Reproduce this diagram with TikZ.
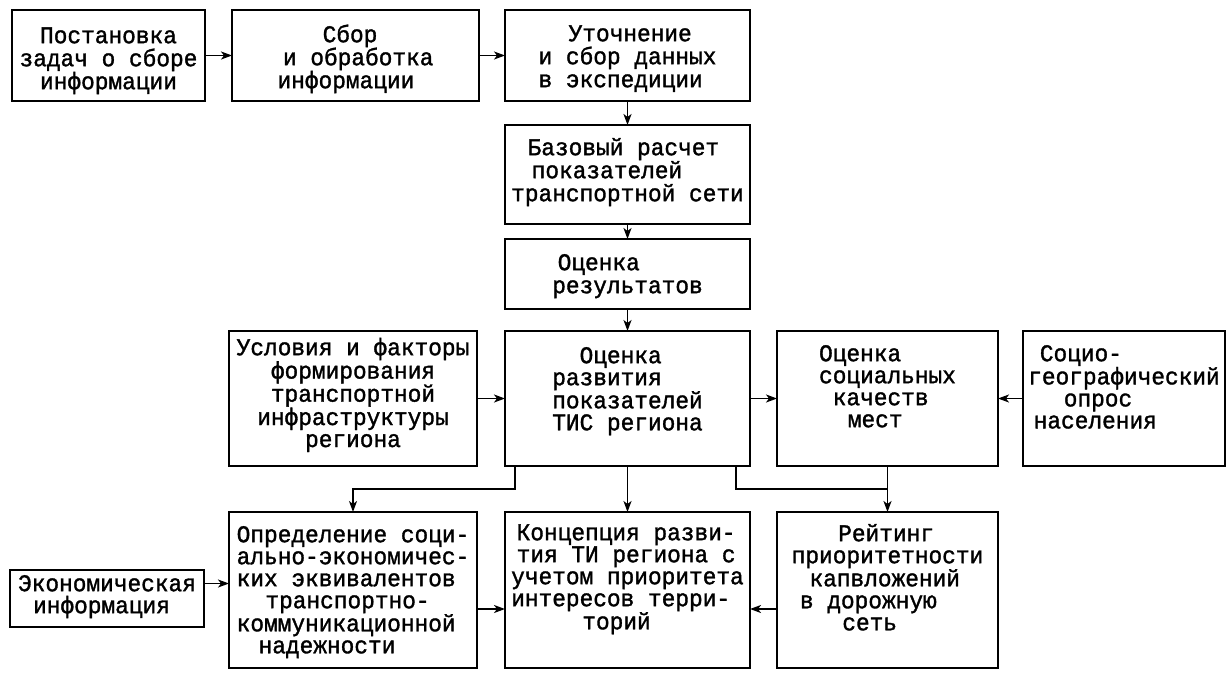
\documentclass[tikz,border=0pt]{standalone}
\usepackage{fontspec}
\newfontfamily\dfont[FakeStretch=0.95,FakeBold=1.4]{Liberation Mono}
\usetikzlibrary{arrows.meta,calc}
\newlength\chw
\setlength\chw{13.68pt}
\newcommand\ind[1]{\hspace*{#1\chw}}
\newcommand\fl{\rule{0pt}{19pt}}
\newcommand\mkbox[5]{\node[box,minimum width={#4-#2},minimum height={#5-#3}] (#1) at ({(#2+#4)/2},{(#3+#5)/2}) {};}
\begin{document}
\begin{tikzpicture}[x=1pt,y=-1pt,
  box/.style={draw,line width=1.8pt,inner sep=0pt,outer sep=0pt},
  txt/.style={font=\dfont\fontsize{24pt}{22pt}\selectfont,inner sep=0pt,align=left},
  txtA/.style={txt,font=\dfont\fontsize{24pt}{23pt}\selectfont},
  arr/.style={-{Stealth[length=11pt,width=8pt,inset=3pt]},line width=1.6pt},
  conn/.style={line width=1.6pt}]
\useasboundingbox (0,0) rectangle (1229,673);
\mkbox{a}{12}{10}{205}{101}
\mkbox{b}{232}{10}{479}{101}
\mkbox{c}{505}{10}{750}{101}
\mkbox{d}{505}{125}{750}{224}
\mkbox{e}{505}{239}{750}{309}
\mkbox{f}{505}{331}{750}{466}
\mkbox{g}{229}{331}{477}{466}
\mkbox{h}{777}{331}{998}{466}
\mkbox{i}{1023}{331}{1225}{466}
\mkbox{m}{10}{570}{204}{627}
\mkbox{j}{229}{512}{477}{668}
\mkbox{k}{505}{512}{750}{668}
\mkbox{l}{777}{512}{998}{668}

\node[txtA,align=center,anchor=north,yshift=-14] (at) at (a.north) {\fl Постановка\\задач о сборе\\информации};
\node[txtA,anchor=north,yshift=-13] (bt) at (b.north) {\fl\ind{3.3}Сбор\\\ind{0.4}и обработка\\информации};
\node[txtA,anchor=north,yshift=-12] (ct) at (c.north) {\fl\ind{2.2}Уточнение\\и сбор данных\\в экспедиции};
\node[txtA,anchor=north,yshift=-11] (dt) at (d.north) {\fl\ind{1.2}Базовый расчет\\\ind{1.5}показателей\\транспортной сети};
\node[txtA,anchor=north,yshift=-12] (et) at (e.north) {\fl\ind{0.4}Оценка\\результатов};
\node[txt,anchor=north,yshift=-13] (ft) at (f.north) {\fl\ind{2}Оценка\\развития\\показателей\\ТИС региона};
\node[txt,align=center,anchor=north,yshift=-5] (gt) at (g.north) {\fl Условия и факторы\\формирования\\транспортной\\инфраструктуры\\региона};
\node[txt,anchor=north,yshift=-11] (ht) at (h.north) {\fl Оценка\\социальных\\\ind{1}качеств\\\ind{2.1}мест};
\node[txt,anchor=north,yshift=-11] (it) at (i.north) {\fl\ind{0.85}Социо-\\географический\\\ind{2.6}опрос\\\ind{0.4}населения};
\node[txt,anchor=north,yshift=-2] (mt) at (m.north) {\fl Экономическая\\\ind{1.1}информация};
\node[txt,anchor=north,yshift=-11] (jt) at (j.north) {\fl Определение соци-\\ально-экономичес-\\ких эквивалентов\\\ind{2.1}транспортно-\\коммуникационной\\\ind{1.6}надежности};
\node[txt,anchor=north,yshift=-9] (kt) at (k.north) {\fl\ind{0.4}Концепция разви-\\\ind{0.4}тия ТИ региона с\\учетом приоритета\\интересов терри-\\\ind{5.2}торий};
\node[txt,anchor=north,yshift=-10] (lt) at (l.north) {\fl\ind{3.4}Рейтинг\\приоритетности\\\ind{1.3}капвложений\\\ind{0.6}в дорожную\\\ind{3.7}сеть};

\draw[arr] (a.east) -- (b.west);
\draw[arr] (b.east) -- (c.west);
\draw[arr] (c.south) -- (d.north);
\draw[arr] (d.south) -- (e.north);
\draw[arr] (e.south) -- (f.north);
\draw[arr] (g.east) -- (f.west);
\draw[arr] (f.east) -- (h.west);
\draw[arr] (i.west) -- (h.east);
\draw[arr] ([xshift=10pt]f.south west) -- ++(0,23) -| (j.north);
\draw[arr] (f.south) -- (k.north);
\coordinate (jn) at ($(h.south)!0.5!(l.north)$);
\draw[conn] ([xshift=-14pt]f.south east) |- (jn);
\draw[arr] (h.south) -- (l.north);
\draw[arr] ([yshift=15pt]m.east) -- ([yshift=15pt]m.east -| j.west);
\draw[arr] ([yshift=-19pt]j.east) -- ([yshift=-19pt]j.east -| k.west);
\draw[arr] ([yshift=-19pt]l.west) -- ([yshift=-19pt]l.west -| k.east);
\end{tikzpicture}
\end{document}
